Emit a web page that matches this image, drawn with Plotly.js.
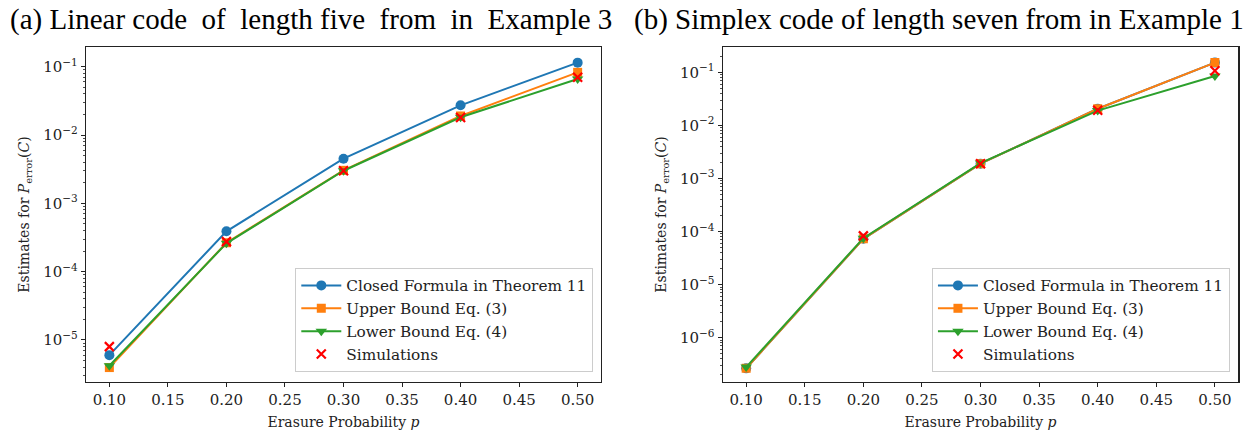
<!DOCTYPE html>
<html><head><meta charset="utf-8">
<script src="https://cdn.plot.ly/plotly-3.0.1.min.js"></script>
<style>body{margin:0;background:#fff}#c{width:1253px;height:432px}</style>
</head><body><div id="c"></div>
<script>
const p = [0.1, 0.2, 0.3, 0.4, 0.5];
// (a) Linear code of length five
const closedA = [6.0e-6, 3.9e-4, 4.5e-3, 2.72e-2, 0.1146];
const upperA  = [3.95e-6, 2.65e-4, 3.04e-3, 1.9e-2, 0.0826];
const lowerA  = [4.2e-6, 2.6e-4, 3.0e-3, 1.82e-2, 0.066];
const simA    = [8.0e-6, 2.75e-4, 3.0e-3, 1.8e-2, 0.070];
// (b) Simplex code of length seven
const closedB = [2.65e-7, 7.3e-5, 1.9e-3, 2.06e-2, 0.152];
const upperB  = [2.65e-7, 7.3e-5, 1.9e-3, 2.06e-2, 0.152];
const lowerB  = [2.8e-7, 7.5e-5, 1.95e-3, 1.9e-2, 0.085];
const simB    = [null, 8.3e-5, 1.9e-3, 1.93e-2, 0.107];

const xTickVals = [0.10, 0.15, 0.20, 0.25, 0.30, 0.35, 0.40, 0.45, 0.50];
const xTickText = ['0.10','0.15','0.20','0.25','0.30','0.35','0.40','0.45','0.50'];
const yTickValsA = [1e-5, 1e-4, 1e-3, 1e-2, 1e-1];
const yTickTextA = ['10<sup>−5</sup>','10<sup>−4</sup>','10<sup>−3</sup>','10<sup>−2</sup>','10<sup>−1</sup>'];
const yTickValsB = [1e-6, 1e-5, 1e-4, 1e-3, 1e-2, 1e-1];
const yTickTextB = ['10<sup>−6</sup>','10<sup>−5</sup>','10<sup>−4</sup>','10<sup>−3</sup>','10<sup>−2</sup>','10<sup>−1</sup>'];
const minorMantissas = [2, 3, 4, 5, 6, 7, 8, 9];
const minorDecades = [-7, -6, -5, -4, -3, -2, -1];

const names = ['Closed Formula in Theorem 11', 'Upper Bound Eq. (3)', 'Lower Bound Eq. (4)', 'Simulations'];
const colors = ['#1f77b4', '#ff7f0e', '#2ca02c', '#ff0000'];
const titleA = '(a) Linear code \u00A0of \u00A0length five \u00A0from \u00A0in \u00A0Example 3';
const titleB = '(b) Simplex code of length seven from in Example 1';

const minorVals = [];
minorDecades.forEach(d => minorMantissas.forEach(m => minorVals.push(m * Math.pow(10, d))));

function traces(vals, xa, ya, lg) {
  const sym = ['circle', 'square', 'triangle-down'];
  const sz = [10, 9, 10];
  const out = [];
  for (let i = 0; i < 3; i++) {
    out.push({x: p, y: vals[i], name: names[i], mode: 'lines+markers', xaxis: xa, yaxis: ya, legend: lg,
      line: {color: colors[i], width: 2}, marker: {symbol: sym[i], size: sz[i], color: colors[i]}});
  }
  out.push({x: p, y: vals[3], name: names[3], mode: 'markers', xaxis: xa, yaxis: ya, legend: lg,
    marker: {symbol: 'x-thin-open', size: 9, color: colors[3], line: {color: colors[3], width: 2.2}}});
  return out;
}

const data = [
  ...traces([closedA, upperA, lowerA, simA], 'x', 'y', 'legend'),
  ...traces([closedB, upperB, lowerB, simB], 'x2', 'y2', 'legend2')
];

const tickFont = {family: 'DejaVu Serif', size: 15, color: '#222'};
const titleFont = {family: 'DejaVu Serif', size: 14, color: '#222'};
function xAxis(dom, anchor) {
  return {domain: dom, anchor: anchor, range: [0.08, 0.52], tickvals: xTickVals, ticktext: xTickText,
    showline: true, mirror: true, linecolor: '#222', linewidth: 1.2, ticks: 'outside', ticklen: 4, tickcolor: '#222',
    showgrid: false, zeroline: false, tickfont: tickFont,
    title: {text: 'Erasure Probability <i>p</i>', font: titleFont, standoff: 9}};
}
function yAxis(rng, tv, tt, anchor) {
  return {domain: [0.1157, 0.8912], anchor: anchor, type: 'log', range: rng, tickvals: tv, ticktext: tt,
    showline: true, mirror: true, linecolor: '#222', linewidth: 1.2, ticks: 'outside', ticklen: 4, tickcolor: '#222',
    showgrid: false, zeroline: false, tickfont: tickFont,
    minor: {tickmode: 'array', tickvals: minorVals, ticks: 'outside', ticklen: 2, tickcolor: '#222', tickwidth: 0.8, showgrid: false},
    title: {text: 'Estimates for <i>P</i><sub>error</sub>(<i>C</i>)', font: titleFont, standoff: 10}};
}
const legFont = {family: 'DejaVu Serif', size: 15.3, color: '#222'};
const layout = {
  width: 1253, height: 432, margin: {l: 0, r: 0, t: 0, b: 0},
  paper_bgcolor: '#fff', plot_bgcolor: '#fff', showlegend: true,
  xaxis: xAxis([0.0686, 0.4797], 'y'),
  yaxis: yAxis([-5.615, -0.712], yTickValsA, yTickTextA, 'x'),
  xaxis2: xAxis([0.5768, 0.9883], 'y2'),
  yaxis2: yAxis([-6.834, -0.524], yTickValsB, yTickTextB, 'x2'),
  legend: {x: 0.4735, y: 0.139, xanchor: 'right', yanchor: 'bottom', bgcolor: 'rgba(255,255,255,0.8)',
    bordercolor: '#ccc', borderwidth: 1, font: legFont, tracegroupgap: 0, itemwidth: 40},
  legend2: {x: 0.9816, y: 0.139, xanchor: 'right', yanchor: 'bottom', bgcolor: 'rgba(255,255,255,0.8)',
    bordercolor: '#ccc', borderwidth: 1, font: legFont, tracegroupgap: 0, itemwidth: 40},
  annotations: [
    {text: titleA, xref: 'paper', yref: 'paper', x: 8/1253, y: 1 - 19/432,
      xanchor: 'left', yanchor: 'middle', showarrow: false, font: {family: 'Liberation Serif', size: 29, color: '#000'}},
    {text: titleB, xref: 'paper', yref: 'paper', x: 632/1253, y: 1 - 19/432,
      xanchor: 'left', yanchor: 'middle', showarrow: false, font: {family: 'Liberation Serif', size: 29, color: '#000'}}
  ]
};
Plotly.newPlot('c', data, layout, {displayModeBar: false, staticPlot: true});
</script></body></html>
